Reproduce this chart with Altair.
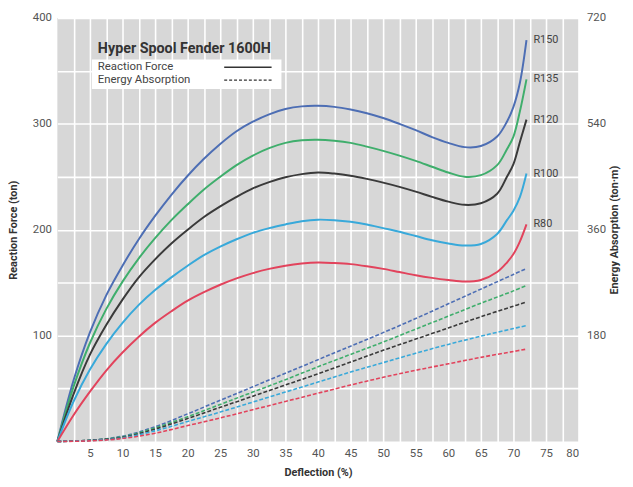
import altair as alt
import pandas as pd

series = ["R150", "R135", "R120", "R100", "R80"]
colors = ["#4d6eb4", "#3fae6c", "#3a3a3a", "#38a9da", "#e2435c"]

force_d = [0, 2.5, 5, 7.5, 10, 12.5, 15, 17.5, 20, 22.5, 25, 27.5, 30, 32.5, 35, 37.5,
           40, 42.5, 45, 47.5, 50, 52.5, 55, 57.5, 60, 62.5, 65, 67.5, 69, 70, 71, 72]
force_r150 = [0, 58, 103, 138, 166, 191, 213, 233, 251, 267, 281, 293, 302, 309, 314, 316.5,
              317, 316, 313.5, 310, 305.5, 300, 294, 287.5, 282, 278, 279, 288, 302, 316, 339, 379]
force_r135 = [0, 52, 93, 125, 151, 173, 192, 209, 224, 238, 250, 261, 270, 277, 282, 284.5,
              285, 284, 282, 278.5, 274.5, 270, 265, 259.5, 254, 250, 251.5, 261, 276, 288, 312, 342]
force_r120 = [0, 45, 82, 110, 134, 155, 172, 187, 200, 212, 222, 231, 239, 245, 249.5, 252.5,
              254, 253, 251, 248, 244.5, 240.5, 236, 231, 226.5, 223.5, 225, 234, 250, 262, 283, 304]
force_r100 = [0, 38, 68, 92, 112, 129, 143, 155, 166, 176, 184, 191, 197, 201.5, 205, 208,
              209.5, 209, 207.5, 205, 201.5, 198, 194, 190, 187, 185, 186.5, 196, 209, 218, 231, 253]
force_r80 = [0, 25, 47, 67, 84, 99, 112, 123, 133, 141, 148, 154, 159, 163, 166, 168,
             169, 168.5, 167.5, 165.5, 163, 160, 157, 154.5, 152.5, 151, 152.5, 160, 169, 177, 189, 205]

energy_d = [0, 5, 10, 15, 20, 25, 30, 35, 40, 45, 50, 55, 60, 65, 70, 72]
energy_r150 = [0, 2, 9, 25, 47, 70, 93, 116, 139, 162, 185, 209, 234, 259, 284, 294]
energy_r135 = [0, 2, 8, 23, 42, 63, 84, 105, 127, 148, 169, 191, 213, 235, 256, 265]
energy_r120 = [0, 2, 7, 21, 39, 58, 77, 96, 115, 135, 155, 174, 193, 212, 230, 237]
energy_r100 = [0, 1.5, 6, 18, 34, 50, 67, 84, 101, 118, 134, 150, 165, 179, 192, 197]
energy_r80 = [0, 1, 5, 14, 27, 40, 54, 68, 82, 96, 109, 121, 132, 143, 153, 157]

x_grid_values = [2.5 * i for i in range(1, 33)]
y_grid_values = [50 * i for i in range(1, 9)]
right_tick_values = [180, 360, 540, 720]

force_lists = [force_r150, force_r135, force_r120, force_r100, force_r80]
energy_lists = [energy_r150, energy_r135, energy_r120, energy_r100, energy_r80]

force_df = pd.DataFrame([
    {"d": d, "F": f, "series": s}
    for s, vals in zip(series, force_lists) for d, f in zip(force_d, vals)
])
energy_df = pd.DataFrame([
    {"d": d, "E": e, "series": s}
    for s, vals in zip(series, energy_lists) for d, e in zip(energy_d, vals)
])
end_df = pd.DataFrame([
    {"d": force_d[-1], "F": vals[-1], "series": s}
    for s, vals in zip(series, force_lists)
])

FONT = "Roboto"
color = alt.Color("series:N", scale=alt.Scale(domain=series, range=colors), legend=None)

x_enc = alt.X(
    "d:Q",
    scale=alt.Scale(domain=[0, 80], nice=False, zero=True),
    axis=alt.Axis(
        values=x_grid_values,
        labelExpr="datum.value % 5 === 0 ? datum.label : ''",
        title="Deflection (%)",
        grid=True, gridColor="#ffffff", gridWidth=1.6,
        domain=False, ticks=False, labelPadding=6,
        labelFontSize=11.5, labelColor="#555555", labelFont=FONT,
        titleFont=FONT, titleFontSize=11, titleFontWeight="bold",
        titleColor="#333333", titlePadding=8,
    ),
)
y_left = alt.Y(
    "F:Q",
    scale=alt.Scale(domain=[0, 400], nice=False),
    axis=alt.Axis(
        values=y_grid_values,
        labelExpr="datum.value % 100 === 0 ? datum.label : ''",
        title="Reaction Force (ton)",
        grid=True, gridColor="#ffffff", gridWidth=1.6,
        domain=False, ticks=False, labelPadding=6,
        labelFontSize=11.5, labelColor="#555555", labelFont=FONT,
        titleFont=FONT, titleFontSize=11, titleFontWeight="bold",
        titleColor="#333333", titlePadding=14,
    ),
)

force_lines = alt.Chart(force_df).mark_line(interpolate="catmull-rom", strokeWidth=2).encode(
    x=x_enc, y=y_left, color=color, detail="series:N"
)
end_labels = alt.Chart(end_df).mark_text(
    align="left", baseline="middle", dx=7, fontSize=11, font=FONT, color="#444444"
).encode(x=x_enc, y=y_left, text="series:N")

one = pd.DataFrame({"k": [0]})
legend_box = alt.Chart(one).mark_rect(fill="#ffffff").encode(
    x=alt.value(35), x2=alt.value(227), y=alt.value(42), y2=alt.value(72)
)
legend_title = alt.Chart(one).mark_text(
    text="Hyper Spool Fender 1600H", align="left", baseline="middle",
    fontSize=14.5, fontWeight="bold", font=FONT, color="#333333"
).encode(x=alt.value(41), y=alt.value(31))
legend_rf = alt.Chart(one).mark_text(
    text="Reaction Force", align="left", baseline="middle",
    fontSize=11.5, font=FONT, color="#444444"
).encode(x=alt.value(41), y=alt.value(50))
legend_ea = alt.Chart(one).mark_text(
    text="Energy Absorption", align="left", baseline="middle",
    fontSize=11.5, font=FONT, color="#444444"
).encode(x=alt.value(41), y=alt.value(63))
legend_solid = alt.Chart(one).mark_rule(color="#333333", strokeWidth=1.6).encode(
    x=alt.value(169), x2=alt.value(217), y=alt.value(50)
)
legend_dash = alt.Chart(one).mark_rule(color="#333333", strokeWidth=1.4, strokeDash=[3, 2]).encode(
    x=alt.value(169), x2=alt.value(217), y=alt.value(63)
)

left_part = alt.layer(force_lines, end_labels, legend_box, legend_title,
                      legend_rf, legend_ea, legend_solid, legend_dash)

energy_lines = alt.Chart(energy_df).mark_line(
    interpolate="catmull-rom", strokeWidth=1.6, strokeDash=[4, 2]
).encode(
    x=x_enc,
    y=alt.Y(
        "E:Q",
        scale=alt.Scale(domain=[0, 720], nice=False),
        axis=alt.Axis(
            orient="right", values=right_tick_values,
            title="Energy Absorption (ton·m)", titleAngle=270,
            grid=False, domain=False, ticks=False, labelPadding=8,
            labelFontSize=11.5, labelColor="#555555", labelFont=FONT,
            titleFont=FONT, titleFontSize=11, titleFontWeight="bold",
            titleColor="#333333", titlePadding=14,
        ),
    ),
    color=color, detail="series:N",
)

chart = alt.layer(left_part, energy_lines).resolve_scale(y="independent").properties(
    width=528, height=429,
    padding={"left": 50, "top": 7, "right": 47, "bottom": 40},
    autosize=alt.AutoSizeParams(type="none"),
    background="#ffffff",
).configure_view(fill="#d7d7d7", strokeWidth=0)

chart.save("out.html", embed_options={"renderer": "svg", "actions": False})
